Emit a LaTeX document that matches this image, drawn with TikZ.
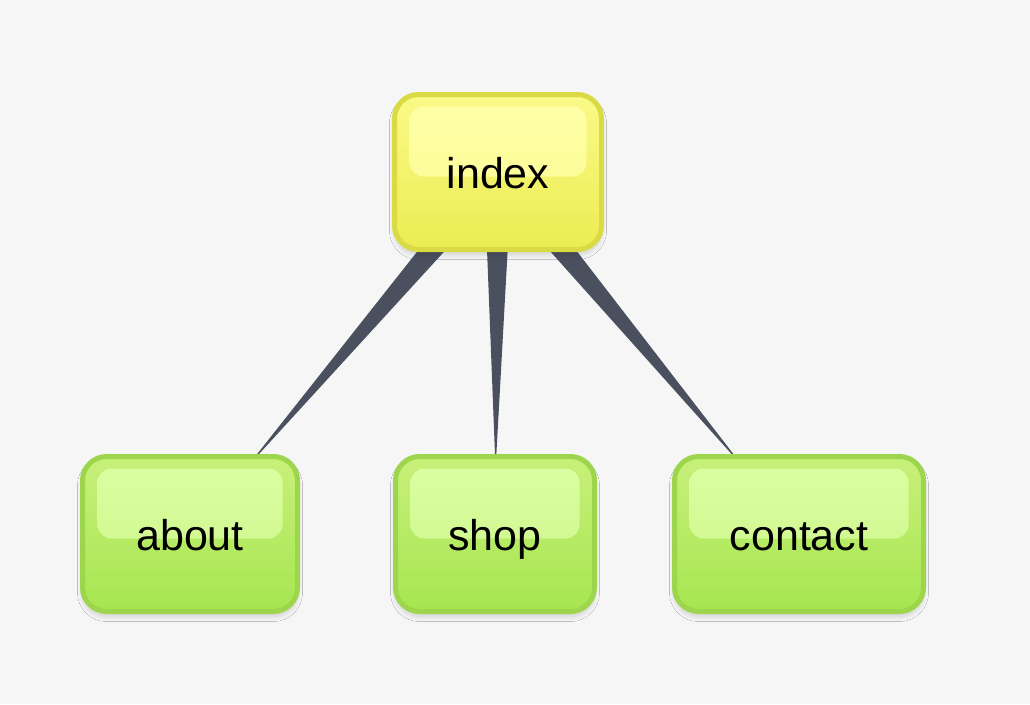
\documentclass[tikz,border=0pt]{standalone}
\usepackage{fontspec}
\setmainfont{Liberation Sans}
\usetikzlibrary{calc,backgrounds,shadows.blur}
\definecolor{bgc}{HTML}{F6F6F6}
\definecolor{edgec}{HTML}{4A505E}
\definecolor{ytop}{HTML}{FAFA88}
\definecolor{ybot}{HTML}{ECEC52}
\definecolor{yborder}{HTML}{DADA44}
\definecolor{yhi}{HTML}{FFFFA8}
\definecolor{gtop}{HTML}{C8F07A}
\definecolor{gbot}{HTML}{A6E650}
\definecolor{gborder}{HTML}{9DD64C}
\definecolor{ghi}{HTML}{DAFFA4}
\tikzset{
  pagebox/.style={rounded corners=24pt, line width=5pt, inner sep=0pt,
    minimum height=155pt, font=\fontsize{43}{50}\selectfont,
    text height=36pt, text depth=4pt,
    blur shadow={shadow blur steps=10, shadow blur extra rounding=4pt, shadow xshift=0pt, shadow yshift=-5pt, shadow opacity=16, shadow blur radius=5pt}},
  rootbox/.style={pagebox, draw=yborder, top color=ytop, bottom color=ybot,
    path picture={\shade[top color=yhi, bottom color=ytop!75!yhi, rounded corners=14pt]
      ([xshift=15pt,yshift=-12pt]path picture bounding box.north west) rectangle
      ([xshift=-15pt,yshift=-82pt]path picture bounding box.north east);}},
  leafbox/.style={pagebox, draw=gborder, top color=gtop, bottom color=gbot,
    path picture={\shade[top color=ghi, bottom color=gtop!75!ghi, rounded corners=14pt]
      ([xshift=15pt,yshift=-12pt]path picture bounding box.north west) rectangle
      ([xshift=-15pt,yshift=-82pt]path picture bounding box.north east);}},
  link/.style={fill=edgec}
}
\begin{document}
\begin{tikzpicture}[x=1pt,y=-1pt]
\useasboundingbox (0,0) rectangle (1030,704);
\node[rootbox, minimum width=207pt] (index) at (498,172) {index};
\node[leafbox, minimum width=215pt] (about) at (190,534) {about};
\node[leafbox, minimum width=199pt] (shop) at (495,534) {shop};
\node[leafbox, minimum width=249pt] (contact) at (799,534) {contact};
\begin{pgfonlayer}{background}
\fill[bgc] (0,0) rectangle (1030,704);
\foreach \c in {about,shop,contact}{
  \fill[link] ($(index.center)!14pt!90:(\c.center)$) -- ($(index.center)!14pt!-90:(\c.center)$)
     -- ($(index.center)!0.82!(\c.center)$) -- cycle;
}
\end{pgfonlayer}
\end{tikzpicture}
\end{document}
